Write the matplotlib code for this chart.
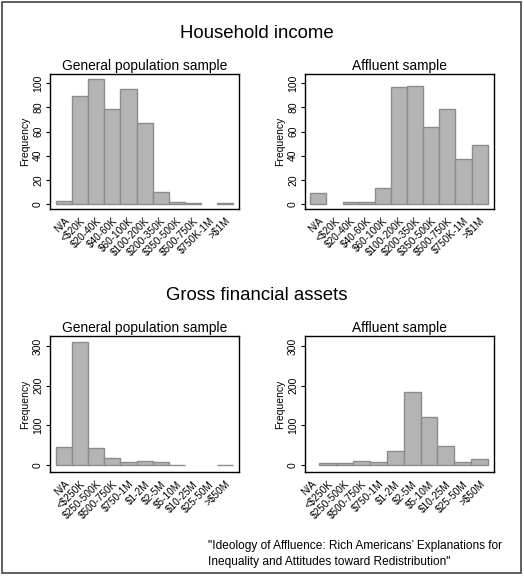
import numpy as np
import matplotlib.pyplot as plt
from matplotlib.patches import Rectangle

plt.rcParams['font.family'] = ['Liberation Sans', 'DejaVu Sans']

income_labels = ['N/A', '<$20K', '$20-40K', '$40-60K', '$60-100K', '$100-200K',
                 '$200-350K', '$350-500K', '$500-750K', '$750K-1M', '>$1M']
income_general = [3, 89, 103, 79, 95, 67, 10, 2, 1, 0, 1]
income_affluent = [9, 0, 2, 2, 13, 97, 98, 64, 79, 37, 49]

assets_labels = ['N/A', '<$250K', '$250-500K', '$500-750K', '$750-1M', '$1-2M',
                 '$2-5M', '$5-10M', '$10-25M', '$25-50M', '>$50M']
assets_general = [46, 310, 43, 17, 7, 10, 7, 1, 0, 0, 1]
assets_affluent = [0, 6, 4, 9, 8, 35, 184, 121, 48, 8, 15]

W, H = 524, 577
fig = plt.figure(figsize=(W / 100, H / 100), dpi=100)
fig.patches.append(Rectangle((2 / W, 1 - 573 / H), 519 / W, 571 / H,
                             transform=fig.transFigure, fill=False,
                             edgecolor='#444444', linewidth=1.2))


def px_axes(x0, y0, x1, y1):
    return fig.add_axes([x0 / W, 1 - y1 / H, (x1 - x0) / W, (y1 - y0) / H])


def hist_panel(ax, labels, counts, title, ylim, yticks, xlim):
    x = np.arange(len(labels))
    c = np.array(counts, dtype=float)
    keep = c > 0  # empty categories leave no mark
    ax.bar(x[keep], c[keep], width=1.0, color='#b4b4b4',
           edgecolor='#8c8c8c', linewidth=1.0)
    ax.set_xlim(*xlim)
    ax.set_ylim(*ylim)
    ax.set_yticks(yticks)
    ax.set_yticklabels([str(t) for t in yticks], rotation=90, va='center',
                       fontsize=7.5)
    ax.set_xticks(x)
    ax.set_xticklabels(labels, rotation=45, ha='right', rotation_mode='anchor',
                       fontsize=7.2)
    ax.tick_params(axis='x', length=0, pad=5)
    ax.tick_params(axis='y', length=3, width=0.8, pad=2)
    ax.set_ylabel('Frequency', fontsize=7.5, labelpad=2)
    ax.set_title(title, fontsize=9.9, pad=3)
    for s in ax.spines.values():
        s.set_linewidth(1.0)


ax1 = px_axes(50, 74, 239, 209)
hist_panel(ax1, income_labels, income_general, 'General population sample',
           (-4, 107.5), [0, 20, 40, 60, 80, 100], (-0.87, 10.85))
ax2 = px_axes(305, 74, 494, 209)
hist_panel(ax2, income_labels, income_affluent, 'Affluent sample',
           (-4, 107.5), [0, 20, 40, 60, 80, 100], (-0.83, 10.89))
ax3 = px_axes(50, 336, 239, 472)
hist_panel(ax3, assets_labels, assets_general, 'General population sample',
           (-17.6, 325), [0, 100, 200, 300], (-0.87, 10.85))
ax4 = px_axes(305, 336, 494, 472)
hist_panel(ax4, assets_labels, assets_affluent, 'Affluent sample',
           (-17.6, 325), [0, 100, 200, 300], (-0.35, 10.85))

fig.text(257 / W, 1 - 33 / H, 'Household income', ha='center', va='center',
         fontsize=13.4)
fig.text(257 / W, 1 - 296 / H, 'Gross financial assets', ha='center',
         va='center', fontsize=13.4)
fig.text(208 / W, 1 - 554 / H,
         '"Ideology of Affluence: Rich Americans\u2019 Explanations for\n'
         'Inequality and Attitudes toward Redistribution"',
         ha='left', va='center', fontsize=8.6, linespacing=1.4)

fig.savefig('out.png', dpi=100)
